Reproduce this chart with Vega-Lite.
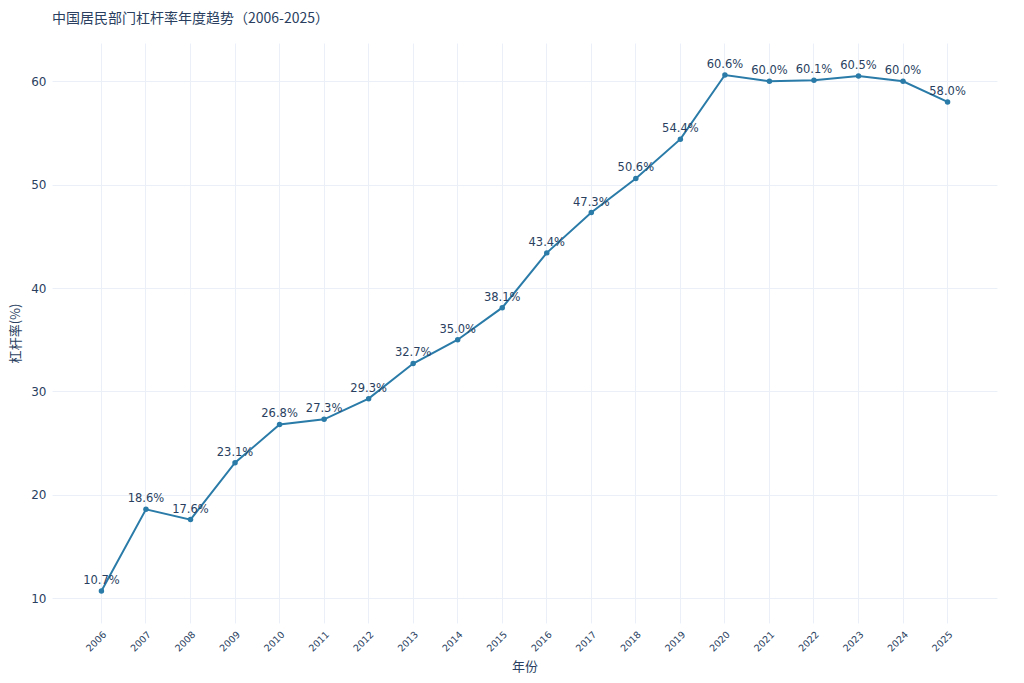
{
  "$schema": "https://vega.github.io/schema/vega-lite/v6.json",
  "autosize": {"type": "none"},
  "width": 945,
  "height": 580,
  "padding": {"left": 52, "top": 43, "right": 27, "bottom": 60},
  "background": "white",
  "title": {
    "text": "中国居民部门杠杆率年度趋势（2006-2025）",
    "anchor": "start",
    "frame": "group",
    "font": "Noto Sans CJK SC",
    "fontSize": 14,
    "fontWeight": "normal",
    "color": "#2a3f5f",
    "offset": 17
  },
  "config": {
    "view": {"stroke": null},
    "font": "Noto Sans CJK SC",
    "axis": {
      "domain": false,
      "ticks": false,
      "gridColor": "#ebf0f8",
      "gridWidth": 1,
      "labelColor": "#2a3f5f",
      "titleColor": "#2a3f5f",
      "titleFontWeight": "normal",
      "labelFont": "DejaVu Sans",
      "titleFont": "Noto Sans CJK SC"
    }
  },
  "data": {
    "values": [
      {"year": "2006", "rate": 10.7},
      {"year": "2007", "rate": 18.6},
      {"year": "2008", "rate": 17.6},
      {"year": "2009", "rate": 23.1},
      {"year": "2010", "rate": 26.8},
      {"year": "2011", "rate": 27.3},
      {"year": "2012", "rate": 29.3},
      {"year": "2013", "rate": 32.7},
      {"year": "2014", "rate": 35.0},
      {"year": "2015", "rate": 38.1},
      {"year": "2016", "rate": 43.4},
      {"year": "2017", "rate": 47.3},
      {"year": "2018", "rate": 50.6},
      {"year": "2019", "rate": 54.4},
      {"year": "2020", "rate": 60.6},
      {"year": "2021", "rate": 60.0},
      {"year": "2022", "rate": 60.1},
      {"year": "2023", "rate": 60.5},
      {"year": "2024", "rate": 60.0},
      {"year": "2025", "rate": 58.0}
    ]
  },
  "transform": [
    {"calculate": "format(datum.rate, '.1f') + '%'", "as": "label"}
  ],
  "encoding": {
    "x": {
      "field": "year",
      "type": "ordinal",
      "scale": {"type": "band", "paddingInner": 0, "paddingOuter": 0.61},
      "title": "年份",
      "axis": {
        "grid": true,
        "bandPosition": 0.5,
        "labelAngle": -45,
        "labelFontSize": 9.5,
        "labelPadding": 6,
        "titleFontSize": 13,
        "titlePadding": 8
      }
    },
    "y": {
      "field": "rate",
      "type": "quantitative",
      "scale": {"domain": [7.6, 63.7], "nice": false, "zero": false},
      "title": "杠杆率(%)",
      "axis": {
        "values": [10, 20, 30, 40, 50, 60],
        "labelFontSize": 12,
        "labelPadding": 6,
        "titleFontSize": 13,
        "titlePadding": 8
      }
    }
  },
  "layer": [
    {
      "mark": {"type": "line", "color": "#2a7ba8", "strokeWidth": 2}
    },
    {
      "mark": {"type": "point", "filled": true, "color": "#2a7ba8", "size": 30, "opacity": 1}
    },
    {
      "mark": {"type": "text", "dy": -10, "fontSize": 11.5, "color": "#2a3f5f", "font": "DejaVu Sans"},
      "encoding": {"text": {"field": "label"}}
    }
  ]
}
